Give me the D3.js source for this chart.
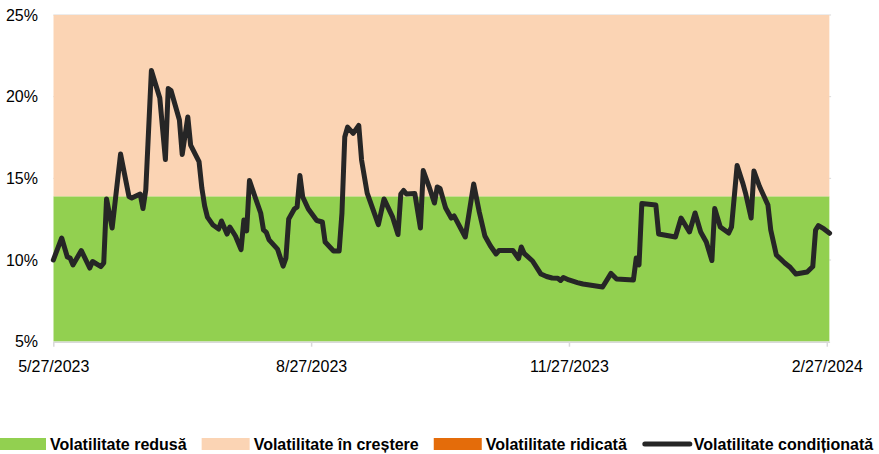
<!DOCTYPE html>
<html>
<head>
<meta charset="utf-8">
<script src="https://cdn.jsdelivr.net/npm/d3@7"></script>
<style>
  body { margin: 0; background: #fff; }
  svg { display: block; font-family: "Liberation Sans", Arial, sans-serif; }
</style>
</head>
<body>
<svg id="chart" width="879" height="454"></svg>
<script>
// daily readings of the conditional volatility (%)
var dates = [
  "2023-05-27","2023-05-30","2023-06-01","2023-06-02","2023-06-03","2023-06-06","2023-06-09","2023-06-10",
  "2023-06-13","2023-06-14","2023-06-15","2023-06-17","2023-06-20","2023-06-23","2023-06-24","2023-06-27",
  "2023-06-28","2023-06-29","2023-07-01","2023-07-04","2023-07-06","2023-07-07","2023-07-08","2023-07-11",
  "2023-07-12","2023-07-14","2023-07-15","2023-07-18","2023-07-19","2023-07-20","2023-07-21","2023-07-23",
  "2023-07-25","2023-07-26","2023-07-28","2023-07-29","2023-07-31","2023-08-02","2023-08-03","2023-08-04",
  "2023-08-05","2023-08-07","2023-08-09","2023-08-10","2023-08-11","2023-08-12","2023-08-15","2023-08-17",
  "2023-08-18","2023-08-19","2023-08-21","2023-08-22","2023-08-23","2023-08-24","2023-08-26","2023-08-29",
  "2023-08-31","2023-09-01","2023-09-04","2023-09-06","2023-09-07","2023-09-08","2023-09-09","2023-09-11",
  "2023-09-13","2023-09-14","2023-09-16","2023-09-20","2023-09-22","2023-09-25","2023-09-27","2023-09-28",
  "2023-09-29","2023-09-30","2023-10-03","2023-10-05","2023-10-06","2023-10-08","2023-10-10","2023-10-11",
  "2023-10-12","2023-10-14","2023-10-16","2023-10-17","2023-10-21","2023-10-24","2023-10-26","2023-10-28",
  "2023-10-30","2023-11-01","2023-11-02","2023-11-07","2023-11-09","2023-11-10","2023-11-11","2023-11-14",
  "2023-11-17","2023-11-19","2023-11-21","2023-11-23","2023-11-24","2023-11-25","2023-11-27","2023-11-30",
  "2023-12-02","2023-12-09","2023-12-12","2023-12-14","2023-12-20","2023-12-21","2023-12-22","2023-12-23",
  "2023-12-28","2023-12-29","2024-01-04","2024-01-06","2024-01-09","2024-01-11","2024-01-13","2024-01-15",
  "2024-01-17","2024-01-18","2024-01-20","2024-01-23","2024-01-24","2024-01-26","2024-01-28","2024-01-29",
  "2024-01-31","2024-02-01","2024-02-03","2024-02-06","2024-02-07","2024-02-09","2024-02-12","2024-02-14",
  "2024-02-16","2024-02-20","2024-02-22","2024-02-23","2024-02-24","2024-02-26","2024-02-28"
];
var volatility = [
  10.00,11.35,10.19,10.12,9.70,10.58,9.51,9.91,
  9.60,9.82,13.74,11.96,16.49,13.89,13.80,14.04,
  13.15,14.29,21.60,19.92,16.15,20.50,20.38,18.57,
  16.46,18.76,17.04,16.03,14.41,13.31,12.63,12.14,
  11.90,12.39,11.59,12.02,11.47,10.64,12.45,11.78,
  14.87,13.86,12.88,11.84,11.69,11.23,10.67,9.63,
  10.12,12.51,13.12,13.25,15.17,13.86,13.12,12.42,
  12.33,11.10,10.55,10.55,12.88,17.53,18.14,17.75,
  18.24,16.12,14.10,12.17,13.74,12.66,11.56,14.04,
  14.26,14.04,14.07,11.96,15.48,14.53,13.49,14.47,
  14.38,13.18,12.57,12.70,11.41,14.65,12.94,11.47,
  10.86,10.37,10.58,10.58,10.09,10.80,10.41,9.94,
  9.14,8.99,8.90,8.88,8.75,8.93,8.78,8.62,
  8.53,8.35,9.18,8.84,8.78,10.12,9.70,13.46,
  13.37,11.59,11.41,12.57,11.72,12.88,11.72,11.10,
  9.97,13.15,12.02,11.65,12.02,15.79,14.72,14.10,
  12.57,15.45,14.50,13.37,11.84,10.31,9.82,9.54,
  9.14,9.27,9.60,11.84,12.11,11.90,11.64
];

var bandNames = ["Volatilitate redusă", "Volatilitate în creștere", "Volatilitate ridicată"];
var bandLimits = [5, 13.9, 25, 30];
var lineName = "Volatilitate condiționată";

var yTicks = [5, 10, 15, 20, 25];
var xTicks = ["2023-05-27", "2023-08-27", "2023-11-27", "2024-02-27"];
var xStart = "2023-05-27", xEnd = "2024-02-28";

var bandColors = ["#92d050", "#fbd4b4", "#e46c0a"];
var lineColor = "#262626";

var parse = d3.timeParse("%Y-%m-%d");
var data = dates.map(function(d, i) { return { date: parse(d), value: volatility[i] }; });

var svg = d3.select("#chart");
var plot = { left: 53.3, right: 829.6, top: 15, bottom: 341.7 };

var x = d3.scaleTime().domain([parse(xStart), parse(xEnd)]).range([plot.left, plot.right]);
var y = d3.scaleLinear().domain([5, 25]).range([plot.bottom, plot.top]);

svg.append("clipPath").attr("id", "plot-clip")
  .append("rect")
  .attr("x", plot.left).attr("y", plot.top)
  .attr("width", plot.right - plot.left).attr("height", plot.bottom - plot.top);

// gridlines peeking out behind the bands
svg.append("g")
  .selectAll("line")
  .data(yTicks.slice(1))
  .enter()
  .append("line")
  .attr("x1", plot.left).attr("x2", plot.right + 1.5)
  .attr("y1", function(d) { return y(d); })
  .attr("y2", function(d) { return y(d); })
  .attr("stroke", "#d9d9d9").attr("stroke-width", 1);

// background bands
svg.append("g").attr("clip-path", "url(#plot-clip)")
  .selectAll("rect")
  .data(bandNames)
  .enter()
  .append("rect")
  .attr("x", x(parse(xStart)))
  .attr("width", x(parse(xEnd)) - x(parse(xStart)))
  .attr("y", function(d, i) { return y(bandLimits[i + 1]); })
  .attr("height", function(d, i) { return y(bandLimits[i]) - y(bandLimits[i + 1]); })
  .attr("fill", function(d, i) { return bandColors[i]; });

// x axis
var xAxis = svg.append("g")
  .attr("transform", "translate(0," + plot.bottom + ")")
  .call(d3.axisBottom(x)
    .tickValues(xTicks.map(parse))
    .tickFormat(d3.timeFormat("%-m/%-d/%Y"))
    .tickSize(5)
    .tickSizeOuter(0));
xAxis.select(".domain").attr("stroke", "#d9d9d9").attr("stroke-width", 1.5);
xAxis.selectAll(".tick line").attr("stroke", "#d9d9d9").attr("stroke-width", 1.5);
xAxis.selectAll(".tick text")
  .attr("fill", "#000")
  .attr("font-size", "16px")
  .attr("dy", "0")
  .attr("y", 30);

// y axis
var yAxis = svg.append("g")
  .attr("transform", "translate(" + 38 + ",0)")
  .call(d3.axisLeft(y)
    .tickValues(yTicks)
    .tickFormat(function(d) { return d + "%"; })
    .tickSize(0));
yAxis.select(".domain").remove();
yAxis.selectAll(".tick text")
  .attr("fill", "#000")
  .attr("font-size", "16px")
  .attr("x", 0);

// volatility line
var line = d3.line()
  .x(function(d) { return x(d.date); })
  .y(function(d) { return y(d.value); });

svg.append("path")
  .datum(data)
  .attr("d", line)
  .attr("fill", "none")
  .attr("stroke", lineColor)
  .attr("stroke-width", 5)
  .attr("stroke-linejoin", "round")
  .attr("stroke-linecap", "round");

// legend
var legend = svg.append("g").attr("transform", "translate(0,444)");
var legendItems = bandNames.concat([lineName]);
var cursor = -2;
legendItems.forEach(function(name, i) {
  var g = legend.append("g").attr("transform", "translate(" + cursor + ",0)");
  if (i < bandNames.length) {
    g.append("rect")
      .attr("x", 0).attr("y", -6)
      .attr("width", 48).attr("height", 12)
      .attr("fill", bandColors[i]);
  } else {
    g.append("line")
      .attr("x1", 3).attr("x2", 48)
      .attr("stroke", lineColor)
      .attr("stroke-width", 5)
      .attr("stroke-linecap", "round");
  }
  var t = g.append("text")
    .attr("x", 52)
    .attr("dy", "0.35em")
    .attr("font-size", "16px")
    .attr("font-weight", "bold")
    .attr("fill", "#000")
    .text(name);
  cursor += 52 + t.node().getComputedTextLength() + 15;
});
</script>
</body>
</html>
